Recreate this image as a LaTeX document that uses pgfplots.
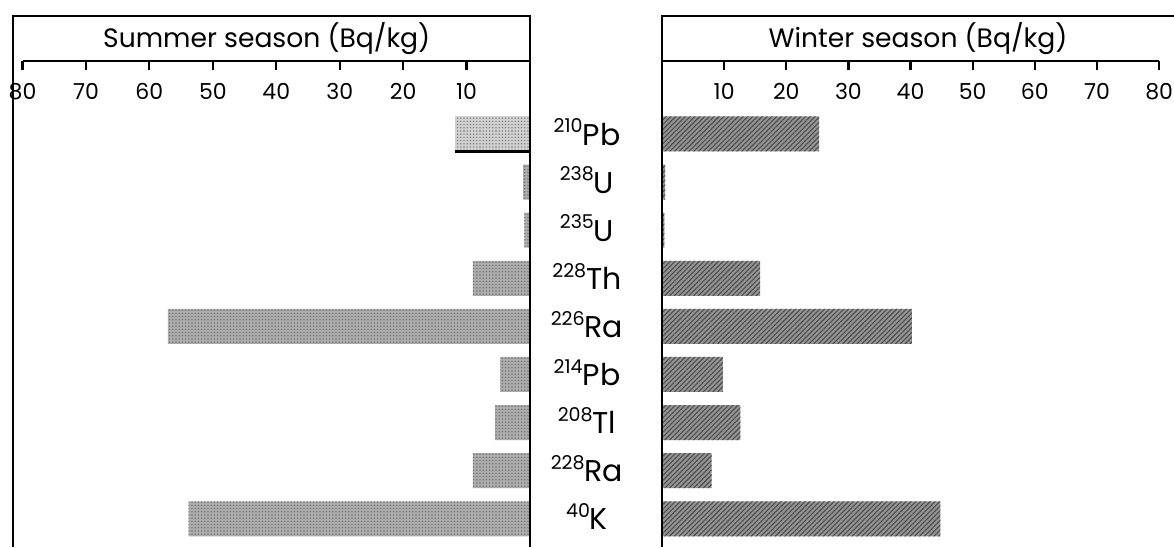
\documentclass[border=0pt]{standalone}
\usepackage{fontspec}
\setmainfont{Poppins}
\usepackage{pgfplots}
\pgfplotsset{compat=1.18}
\usetikzlibrary{patterns.meta}

\newcommand{\iso}[2]{\raisebox{0.62em}{\fontsize{9.5}{10}\selectfont #1}\fontsize{15}{15}\selectfont #2}

\begin{document}
\begin{tikzpicture}
\useasboundingbox (0,0) rectangle (587pt,273.5pt);
\pgfplotsset{
  panel/.style={
    scale only axis, height=243pt, ymin=-0.586, ymax=9.517, xmin=0,
    xbar, bar width=17.5pt, axis line style={draw=none},
    xtick={10,20,...,80}, xtick pos=upper, xticklabel pos=upper,
    xtick align=inside, major tick length=4.5pt,
    every tick/.style={black, line width=1.1pt},
    xticklabel={\raisebox{-19.5pt}[0pt][0pt]{\pgfmathprintnumber{\tick}}},
    xticklabel style={font=\fontsize{11}{11}\selectfont, anchor=center, inner sep=0pt},
    clip=false,
    /pgf/number format/assume math mode=true,
  },
}
% ---------------- Summer (left) ----------------
\begin{axis}[panel, at={(6.5pt,0pt)}, anchor=south west, width=258.5pt,
  xmax=81.5, x dir=reverse, ytick=\empty]
\addplot[bar shift=0pt, fill=black!32, draw=none,
  postaction={pattern={Dots[distance=1.6pt, radius=0.38pt]}, pattern color=black!60}]
  coordinates {
  (1.1,7) (0.9,6) (9.0,5) (57.1,4) (4.7,3) (5.5,2) (9.0,1) (53.8,0)};
\addplot[bar shift=0pt, fill=black!18, draw=none,
  postaction={pattern={Dots[distance=1.6pt, radius=0.38pt]}, pattern color=black!55}]
  coordinates {(11.8,8)};
\draw[line width=1.2pt] ([yshift=-8.75pt]axis cs:0,8) -- ([yshift=-8.75pt]axis cs:11.8,8);
\draw[line width=1.2pt] (axis cs:81.5,-0.586) -- (axis cs:81.5,9.517) -- ++(0pt,22.5pt)
  -| (axis cs:0,-0.586);
\draw[line width=1.2pt] (axis cs:80,9.517) -- (axis cs:0,9.517);
\node[font=\fontsize{13.3}{14}\selectfont] at ([yshift=11.25pt]axis cs:41.5,9.517)
  {Summer season (Bq/kg)};
\end{axis}
% ---------------- Winter (right) ----------------
\begin{axis}[panel, at={(331pt,0pt)}, anchor=south west, width=256pt,
  xmax=82.4,
  ytick={0,1,2,3,4,5,6,7,8},
  yticklabels={{\iso{40}{K}},{\iso{228}{Ra}},{\iso{208}{Tl}},{\iso{214}{Pb}},
    {\iso{226}{Ra}},{\iso{228}{Th}},{\iso{235}{U}},{\iso{238}{U}},{\iso{210}{Pb}}},
  ytick pos=left, yticklabel pos=left,
  y tick style={draw=none},
  yticklabel style={anchor=center, xshift=-33pt, yshift=1pt}]
\addplot[bar shift=0pt, fill=black!42, draw=none,
  postaction={pattern={Lines[angle=45, distance=1.7pt, line width=0.55pt]}, pattern color=black!70}]
  coordinates {
  (25.3,8) (0.5,7) (0.4,6) (15.8,5) (40.2,4) (9.8,3) (12.6,2) (8.0,1) (44.8,0)};
\draw[line width=1.2pt] (axis cs:0,-0.586) -- (axis cs:0,9.517) -- ++(0pt,22.5pt)
  -- ([yshift=22.5pt]axis cs:82.4,9.517);
\draw[line width=1.2pt] (axis cs:0,9.517) -- (axis cs:80,9.517);
\node[font=\fontsize{13.3}{14}\selectfont] at ([yshift=11.25pt]axis cs:41.2,9.517)
  {Winter season (Bq/kg)};
\end{axis}
\end{tikzpicture}
\end{document}
